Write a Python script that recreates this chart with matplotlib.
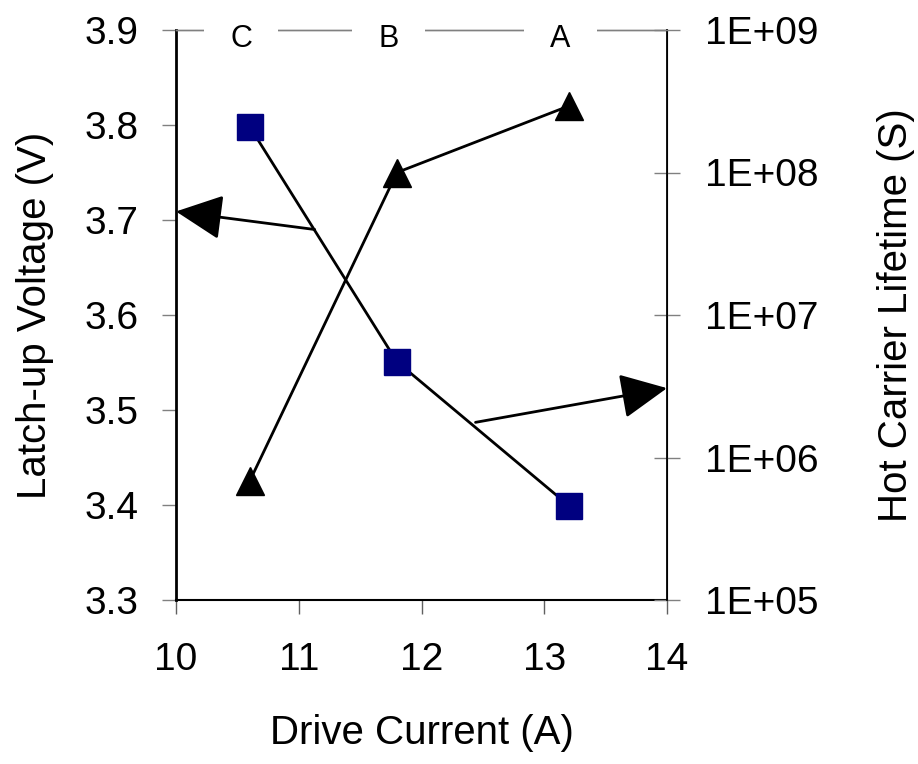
import matplotlib
matplotlib.use('Agg')
import matplotlib.pyplot as plt
import numpy as np

plt.rcParams['font.family'] = ['Liberation Sans', 'DejaVu Sans']

# data
current = [10.6, 11.8, 13.2]
latchup = [3.425, 3.75, 3.82]          # left axis, triangles
lifetime = [2.1e8, 4.7e6, 4.6e5]        # right axis (log), squares
labels = ['C', 'B', 'A']

xticks = [10, 11, 12, 13, 14]
yticks_left = [3.3, 3.4, 3.5, 3.6, 3.7, 3.8, 3.9]
yticks_right = [1e5, 1e6, 1e7, 1e8, 1e9]
yticklabels_right = ['1E+05', '1E+06', '1E+07', '1E+08', '1E+09']

fig = plt.figure(figsize=(9.18, 7.64), dpi=100)
ax = fig.add_axes([176/918, 1-600/764, (667-176)/918, (600-30)/764])
ax2 = ax.twinx()

ax.plot(current, latchup, color='black', lw=2, marker='^', ms=20,
        mfc='black', mec='black', zorder=3)
ax2.plot(current, lifetime, color='black', lw=2, marker='s', ms=19,
         mfc='#000080', mec='#000080', zorder=3)

ax.set_xlim(10, 14)
ax.set_ylim(3.3, 3.9)
ax2.set_yscale('log')
ax2.set_ylim(1e5, 1e9)

ax.set_xticks(xticks)
ax.set_yticks(yticks_left)
ax.set_yticklabels(['%.1f' % v for v in yticks_left])
ax2.set_yticks(yticks_right)
ax2.set_yticklabels(yticklabels_right)
ax2.minorticks_off()

ax.tick_params(axis='y', direction='out', length=10, width=1, color='#808080',
               labelsize=28, pad=17)
ax.tick_params(axis='x', direction='out', length=10, width=1, color='#606060',
               labelsize=28, pad=20)
ax2.tick_params(axis='y', direction='inout', length=19, width=1, color='#808080',
                labelsize=28, pad=18)

for a in (ax, ax2):
    a.spines['top'].set_color('#808080')
    a.spines['top'].set_linewidth(1)
ax.spines['left'].set_linewidth(2)
ax.spines['bottom'].set_linewidth(1.5)
ax2.spines['right'].set_linewidth(1.3)
ax2.spines['left'].set_visible(False)
ax2.spines['bottom'].set_visible(False)

ax.set_xlabel('Drive Current (A)', fontsize=29, labelpad=26)
ax.set_ylabel('Latch-up Voltage (V)', fontsize=29, labelpad=22)
ax2.set_ylabel('Hot Carrier Lifetime (S)', fontsize=29, labelpad=42)

# group labels sitting on the top border
for x, t in zip(current, labels):
    ax2.text(x - 0.07, 3.882, t, transform=ax.transData,
             ha='center', va='baseline', fontsize=22, zorder=5,
             bbox=dict(facecolor='white', edgecolor='none', pad=19))

# arrows showing which axis each curve belongs to
ax2.annotate('', xy=(10.0, 3.709), xytext=(11.13, 3.69),
             xycoords=ax.transData, textcoords=ax.transData,
             arrowprops=dict(arrowstyle='-|>,head_length=2.9,head_width=1.4',
                             color='black', lw=2, shrinkA=0, shrinkB=0,
                             mutation_scale=10), annotation_clip=False)
ax2.annotate('', xy=(14.0, 3.523), xytext=(12.44, 3.487),
             xycoords=ax.transData, textcoords=ax.transData,
             arrowprops=dict(arrowstyle='-|>,head_length=2.9,head_width=1.4',
                             color='black', lw=2, shrinkA=0, shrinkB=0,
                             mutation_scale=10), annotation_clip=False)

fig.savefig('out.png', dpi=100)
